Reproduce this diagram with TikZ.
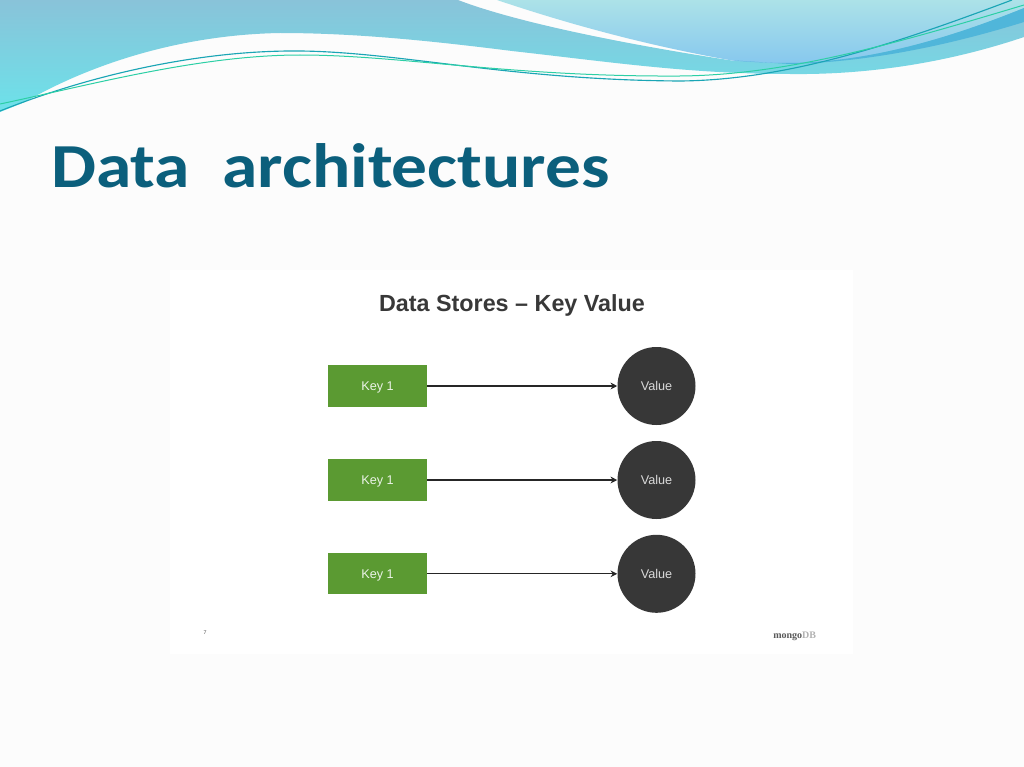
\documentclass[tikz,border=0pt]{standalone}
\usepackage{graphicx}
\usepackage{fontspec}
\setmainfont{Liberation Sans}
\newfontfamily\titlefont{Carlito}
\newfontfamily\logofont{Liberation Serif}
\usetikzlibrary{arrows.meta}
\definecolor{tealtitle}{HTML}{0B5F7C}
\definecolor{keygreen}{HTML}{5B9A32}
\definecolor{valdark}{HTML}{373737}
\definecolor{pagebg}{HTML}{FCFCFC}
\definecolor{lineA}{HTML}{1AA5B5}
\definecolor{lineB}{HTML}{2CCFA5}
\definecolor{bandtop}{HTML}{89C3D9}
\definecolor{bandbot}{HTML}{6CE2EA}
\definecolor{lighttop}{HTML}{ACE2E8}
\definecolor{lightbot}{HTML}{87C8EE}
\definecolor{stripblue}{HTML}{50B6DA}
\tikzset{
 keybox/.style={draw=none,fill=keygreen,minimum width=74pt,minimum height=31pt,text=white!88!keygreen,font=\fontsize{9.5}{11}\selectfont,inner sep=0pt,text depth=0pt,text height=6.5pt},
 valcirc/.style={circle,fill=valdark,minimum size=58.5pt,text=white!85!black,font=\fontsize{9.5}{11}\selectfont,inner sep=0pt},
 linkarrow/.style={draw=black!85,line width=1pt,-{Stealth[length=5pt,width=5pt]}},
 waveA/.style={draw=lineA,line width=0.85pt},
 waveB/.style={draw=lineB,line width=0.75pt}
}
\begin{document}
\begin{tikzpicture}[x=0.75pt,y=-0.75pt]
\useasboundingbox (0,0) rectangle (1024,767);
\fill[pagebg] (0,0) rectangle (1024,767);
\fill[white] (170,270) rectangle (853,654);
% main band
\shade[top color=bandtop,bottom color=bandbot]
 (0,0) -- (458,0) .. controls (510,20) and (610,42) .. (735,61)
 -- (1024,8) -- (1024,37)
 .. controls (950,62) and (870,75) .. (790,74)
 .. controls (690,74) and (610,62) .. (512,51)
 .. controls (440,42) and (360,33) .. (280,33)
 .. controls (170,35) and (80,70) .. (25,102) -- (0,112) -- cycle;
% upper-right light band
\shade[top color=lighttop,bottom color=lightbot]
 (497,0) -- (1024,0) -- (1024,8)
 .. controls (950,38) and (870,62) .. (790,63)
 .. controls (760,63) and (750,62) .. (735,61)
 .. controls (660,48) and (580,28) .. (497,0) -- cycle;
% darker blue strip
\fill[stripblue] (735,60.5) .. controls (750,62) and (770,63) .. (790,63)
 .. controls (870,62) and (950,38) .. (1024,8) -- (1024,22)
 .. controls (950,45) and (870,62) .. (790,64) -- cycle;
% thin lines
\draw[waveA] (0,111) .. controls (90,75) and (200,50) .. (300,51)
 .. controls (400,52) and (510,80) .. (680,81)
 .. controls (790,80) and (900,42) .. (1012,0);
\draw[waveB] (0,104) .. controls (90,85) and (200,55) .. (300,55)
 .. controls (400,55) and (510,77) .. (680,76)
 .. controls (790,75) and (900,42) .. (1024,5);
\node[anchor=base west,inner sep=0pt,text=tealtitle,font=\titlefont\bfseries\fontsize{47}{50}\selectfont] (title) at (51,187) {\scalebox{1.14}[1]{Data\ \ architectures}};
\node[anchor=base,inner sep=0pt,text=black!78,font=\bfseries\fontsize{17.5}{20}\selectfont] (head) at (512,311) {Data Stores – Key Value};
\node[keybox] (k1) at (377.5,386) {Key 1};
\node[keybox] (k2) at (377.5,480) {Key 1};
\node[keybox] (k3) at (377.5,573.8) {Key 1};
\node[valcirc] (v1) at (656.5,386) {Value};
\node[valcirc] (v2) at (656.5,480) {Value};
\node[valcirc] (v3) at (656.5,573.8) {Value};
\draw[linkarrow] (k1) -- (v1);
\draw[linkarrow] (k2) -- (v2);
\draw[linkarrow] (k3) -- (v3);
\node[text=black!70,inner sep=0pt,font=\fontsize{4}{5}\selectfont] (pg) at (205,633) {7};
\node[anchor=base west,inner sep=0pt,font=\logofont\bfseries\fontsize{7.5}{9}\selectfont,text=black!65] (logo) at (773,638) {mongo\textcolor{black!30}{DB}};
\end{tikzpicture}
\end{document}
